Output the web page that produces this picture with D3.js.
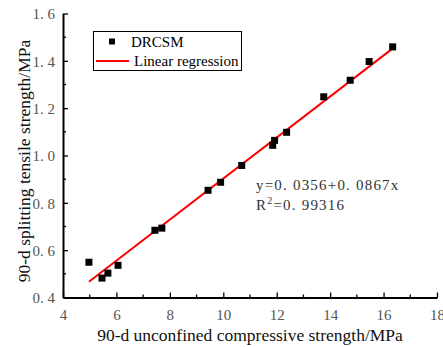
<!DOCTYPE html>
<html><head><meta charset="utf-8">
<script src="https://cdn.jsdelivr.net/npm/d3@7"></script>
<style>body{margin:0;background:#fff}svg{display:block}</style>
</head><body>
<script>
const ucs = [4.97,5.46,5.68,6.06,7.44,7.70,9.43,9.90,10.69,11.85,11.92,12.37,13.76,14.75,15.46,16.34];
const sts = [0.549,0.482,0.503,0.536,0.684,0.693,0.853,0.887,0.958,1.043,1.064,1.098,1.248,1.318,1.397,1.459];
const xTicks = [4,6,8,10,12,14,16,18];
const yTicks = [0.4,0.6,0.8,1.0,1.2,1.4,1.6];
const fitA = 0.0356, fitB = 0.0867;
const fitRange = [4.97, 16.37];
const legendLabels = ["DRCSM","Linear regression"];
const eqText = "y=0. 0356+0. 0867x";
const r2Text = "0. 99316";

const W=443,H=347;
const svg=d3.select("body").append("svg").attr("width",W).attr("height",H);
const x=d3.scaleLinear().domain([4,18]).range([63,437]);
const y=d3.scaleLinear().domain([0.4,1.6]).range([297.5,13.5]);
const serif="Liberation Serif, Times New Roman, DejaVu Serif, serif";
const fmtDot = s => s.replace(".", ". ");

// minor ticks
const xMinor=d3.range(5,18,2), yMinor=d3.range(0.5,1.6,0.2);
svg.selectAll(".xm").data(xMinor).join("line").attr("x1",d=>x(d)).attr("x2",d=>x(d))
  .attr("y1",y(0.4)).attr("y2",y(0.4)-3).attr("stroke","#000").attr("stroke-width",1.3);
svg.selectAll(".ym").data(yMinor).join("line").attr("y1",d=>y(d)).attr("y2",d=>y(d))
  .attr("x1",x(4)).attr("x2",x(4)+3).attr("stroke","#000").attr("stroke-width",1.3);

const xAxis=svg.append("g").attr("font-family",serif).attr("transform",`translate(0,${y(0.4)})`)
  .call(d3.axisBottom(x).tickValues(xTicks).tickSizeInner(-5).tickSizeOuter(0).tickPadding(9));
const yAxis=svg.append("g").attr("font-family",serif).attr("transform",`translate(${x(4)},0)`)
  .call(d3.axisLeft(y).tickValues(yTicks).tickSizeInner(-5).tickSizeOuter(0).tickPadding(8)
  .tickFormat(d=>fmtDot(d3.format(".1f")(d))));
[xAxis,yAxis].forEach(g=>{
  g.attr("font-family",serif);
  g.select(".domain").attr("stroke","#000").attr("stroke-width",2);
  g.selectAll(".tick line").attr("stroke","#000").attr("stroke-width",1.3);
  g.selectAll(".tick text").attr("font-family",serif).attr("font-size",15).attr("fill","#555");
});
xAxis.selectAll(".tick text").attr("dy","0.9em");
yAxis.selectAll(".tick text").attr("dy","0.35em");

// regression line
svg.append("line").attr("x1",x(fitRange[0])).attr("y1",y(fitA+fitB*fitRange[0]))
  .attr("x2",x(fitRange[1])).attr("y2",y(fitA+fitB*fitRange[1]))
  .attr("stroke","#f00").attr("stroke-width",2);

// points
const s=7;
svg.selectAll(".pt").data(ucs.map((u,i)=>[u,sts[i]])).join("rect")
  .attr("x",d=>x(d[0])-s/2).attr("y",d=>y(d[1])-s/2).attr("width",s).attr("height",s).attr("fill","#000");

// legend
const lg=svg.append("g");
lg.append("rect").attr("x",93.5).attr("y",31.5).attr("width",148).attr("height",39)
  .attr("fill","#fff").attr("stroke","#000").attr("stroke-width",1);
lg.append("rect").attr("x",109).attr("y",38.5).attr("width",6).attr("height",6).attr("fill","#000");
lg.append("line").attr("x1",96).attr("x2",129).attr("y1",61).attr("y2",61).attr("stroke","#f00").attr("stroke-width",2);
lg.append("text").attr("x",131).attr("y",46.5).text(legendLabels[0])
  .attr("font-family",serif).attr("font-size",15).attr("fill","#000");
lg.append("text").attr("x",134).attr("y",66).text(legendLabels[1])
  .attr("font-family",serif).attr("font-size",15).attr("fill","#000");

// equation
svg.append("text").attr("x",256).attr("y",190).text(eqText).attr("letter-spacing",1.2)
  .attr("font-family",serif).attr("font-size",15).attr("fill","#333");
const r2=svg.append("text").attr("x",256).attr("y",210).attr("letter-spacing",1.2)
  .attr("font-family",serif).attr("font-size",15).attr("fill","#333");
r2.append("tspan").text("R");
r2.append("tspan").attr("dy",-6).attr("font-size",10).text("2");
r2.append("tspan").attr("dy",6).text("="+r2Text);

// axis titles
svg.append("text").attr("x",250).attr("y",341).attr("text-anchor","middle")
  .attr("font-family",serif).attr("font-size",17.5).attr("fill","#111")
  .text("90-d unconfined compressive strength/MPa");
svg.append("text").attr("transform","translate(30,161) rotate(-90)").attr("text-anchor","middle")
  .attr("font-family",serif).attr("font-size",17.5).attr("fill","#111")
  .text("90-d splitting tensile strength/MPa");
</script>
</body></html>
